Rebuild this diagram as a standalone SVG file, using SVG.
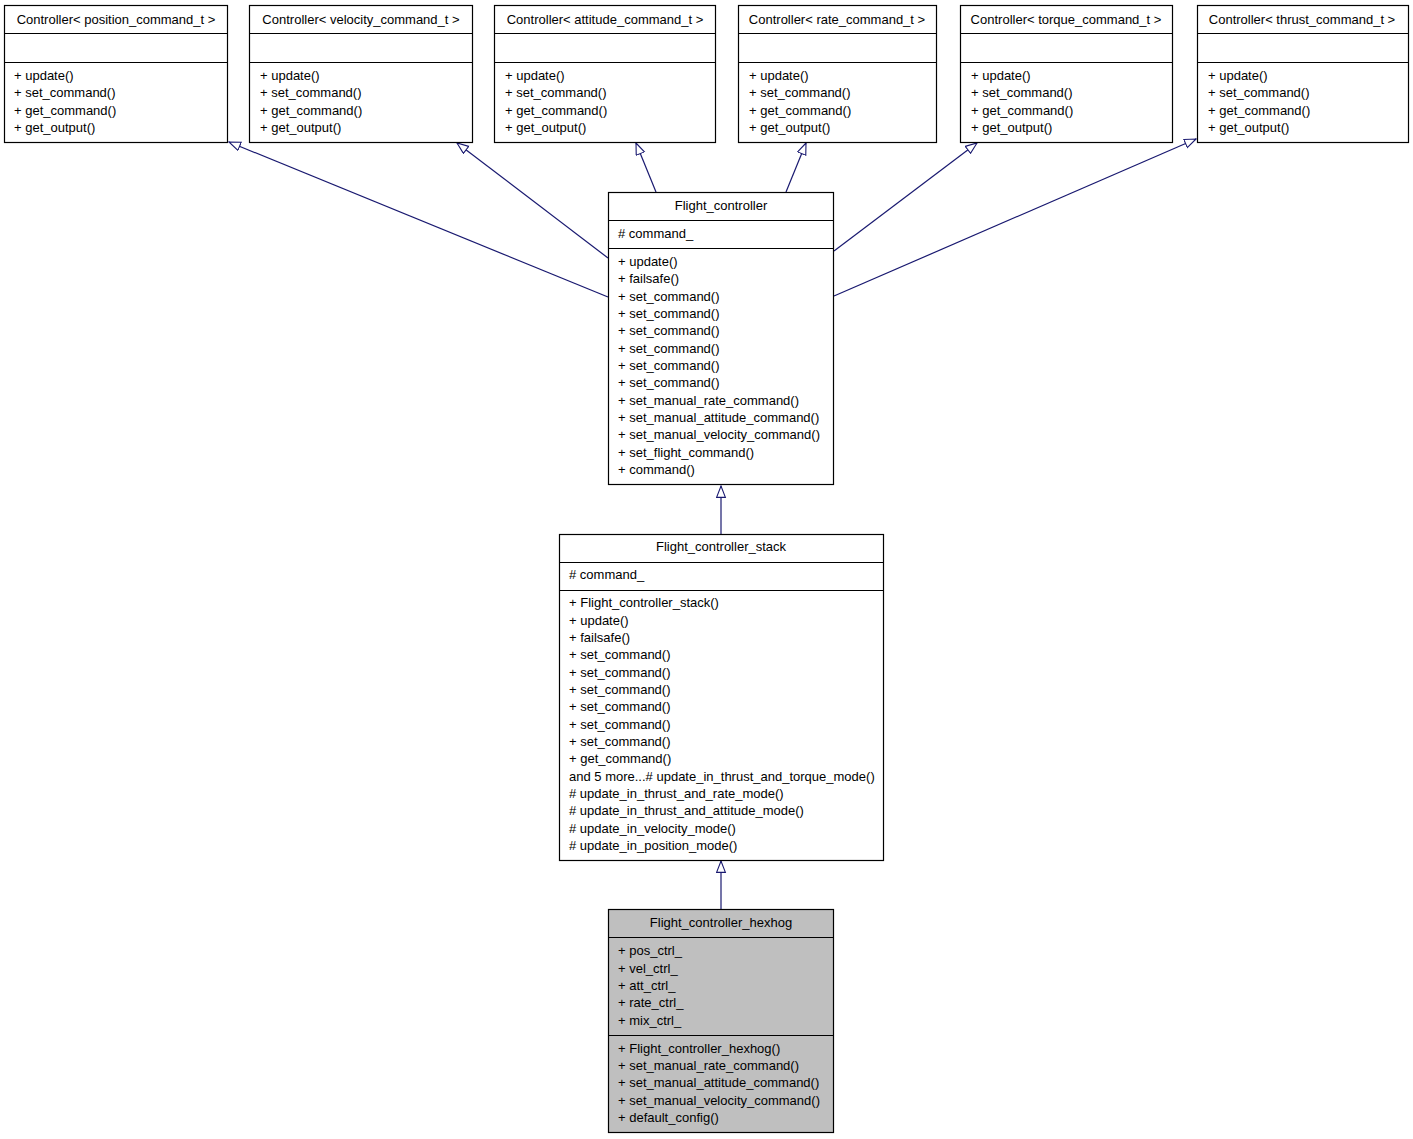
<svg xmlns="http://www.w3.org/2000/svg" width="1413" height="1139" viewBox="0 0 1413 1139">
<style>
text{font-family:"Liberation Sans",Arial,Helvetica,sans-serif;font-size:13px;fill:#000}
.h{text-anchor:middle}
.box{fill:#fff;stroke:#000;stroke-width:1.2}
.cur{fill:#bfbfbf;stroke:#000;stroke-width:1.2}
.sep{stroke:#000;stroke-width:1.2}
.e{stroke:#191970;stroke-width:1.2;fill:none;marker-end:url(#tri)}
</style>
<defs>
<marker id="tri" markerUnits="userSpaceOnUse" markerWidth="14" markerHeight="12" refX="12" refY="5" orient="auto">
<path d="M0.6,0.6 L12,5 L0.6,9.4 z" fill="#fff" stroke="#191970" stroke-width="1.1"/>
</marker>
</defs>
<g id="connectors">
<line class="e" x1="608" y1="297" x2="229" y2="142"/>
<line class="e" x1="608" y1="258" x2="457" y2="143"/>
<line class="e" x1="656" y1="192" x2="636" y2="143"/>
<line class="e" x1="786" y1="192" x2="806" y2="143"/>
<line class="e" x1="834" y1="251" x2="977" y2="143"/>
<line class="e" x1="834" y1="296" x2="1196" y2="139"/>
<line class="e" x1="721" y1="534" x2="721" y2="486"/>
<line class="e" x1="721" y1="909" x2="721" y2="861"/>
</g>
<g id="n_position">
<rect class="box" x="4.5" y="5.5" width="223" height="137"/>
<line class="sep" x1="4.5" y1="33.5" x2="227.5" y2="33.5"/>
<line class="sep" x1="4.5" y1="62.5" x2="227.5" y2="62.5"/>
<text class="h" x="116" y="24">Controller&lt; position_command_t &gt;</text>
<text x="14" y="80">+ update()</text><text x="14" y="97">+ set_command()</text><text x="14" y="115">+ get_command()</text><text x="14" y="132">+ get_output()</text>
</g>
<g id="n_velocity">
<rect class="box" x="249.5" y="5.5" width="223" height="137"/>
<line class="sep" x1="249.5" y1="33.5" x2="472.5" y2="33.5"/>
<line class="sep" x1="249.5" y1="62.5" x2="472.5" y2="62.5"/>
<text class="h" x="361" y="24">Controller&lt; velocity_command_t &gt;</text>
<text x="260" y="80">+ update()</text><text x="260" y="97">+ set_command()</text><text x="260" y="115">+ get_command()</text><text x="260" y="132">+ get_output()</text>
</g>
<g id="n_attitude">
<rect class="box" x="494.5" y="5.5" width="221" height="137"/>
<line class="sep" x1="494.5" y1="33.5" x2="715.5" y2="33.5"/>
<line class="sep" x1="494.5" y1="62.5" x2="715.5" y2="62.5"/>
<text class="h" x="605" y="24">Controller&lt; attitude_command_t &gt;</text>
<text x="505" y="80">+ update()</text><text x="505" y="97">+ set_command()</text><text x="505" y="115">+ get_command()</text><text x="505" y="132">+ get_output()</text>
</g>
<g id="n_rate">
<rect class="box" x="738.5" y="5.5" width="198" height="137"/>
<line class="sep" x1="738.5" y1="33.5" x2="936.5" y2="33.5"/>
<line class="sep" x1="738.5" y1="62.5" x2="936.5" y2="62.5"/>
<text class="h" x="837" y="24">Controller&lt; rate_command_t &gt;</text>
<text x="749" y="80">+ update()</text><text x="749" y="97">+ set_command()</text><text x="749" y="115">+ get_command()</text><text x="749" y="132">+ get_output()</text>
</g>
<g id="n_torque">
<rect class="box" x="960.5" y="5.5" width="212" height="137"/>
<line class="sep" x1="960.5" y1="33.5" x2="1172.5" y2="33.5"/>
<line class="sep" x1="960.5" y1="62.5" x2="1172.5" y2="62.5"/>
<text class="h" x="1066" y="24">Controller&lt; torque_command_t &gt;</text>
<text x="971" y="80">+ update()</text><text x="971" y="97">+ set_command()</text><text x="971" y="115">+ get_command()</text><text x="971" y="132">+ get_output()</text>
</g>
<g id="n_thrust">
<rect class="box" x="1197.5" y="5.5" width="211" height="137"/>
<line class="sep" x1="1197.5" y1="33.5" x2="1408.5" y2="33.5"/>
<line class="sep" x1="1197.5" y1="62.5" x2="1408.5" y2="62.5"/>
<text class="h" x="1302" y="24">Controller&lt; thrust_command_t &gt;</text>
<text x="1208" y="80">+ update()</text><text x="1208" y="97">+ set_command()</text><text x="1208" y="115">+ get_command()</text><text x="1208" y="132">+ get_output()</text>
</g>
<g id="n_flight_controller">
<rect class="box" x="608.5" y="192.5" width="225" height="292"/>
<line class="sep" x1="608.5" y1="220.5" x2="833.5" y2="220.5"/>
<line class="sep" x1="608.5" y1="248.5" x2="833.5" y2="248.5"/>
<text class="h" x="721" y="210">Flight_controller</text>
<text x="618" y="238"># command_</text>
<text x="618" y="266">+ update()</text>
<text x="618" y="283">+ failsafe()</text>
<text x="618" y="301">+ set_command()</text>
<text x="618" y="318">+ set_command()</text>
<text x="618" y="335">+ set_command()</text>
<text x="618" y="353">+ set_command()</text>
<text x="618" y="370">+ set_command()</text>
<text x="618" y="387">+ set_command()</text>
<text x="618" y="405">+ set_manual_rate_command()</text>
<text x="618" y="422">+ set_manual_attitude_command()</text>
<text x="618" y="439">+ set_manual_velocity_command()</text>
<text x="618" y="457">+ set_flight_command()</text>
<text x="618" y="474">+ command()</text>
</g>
<g id="n_stack">
<rect class="box" x="559.5" y="534.5" width="324" height="326"/>
<line class="sep" x1="559.5" y1="562.5" x2="883.5" y2="562.5"/>
<line class="sep" x1="559.5" y1="590.5" x2="883.5" y2="590.5"/>
<text class="h" x="721" y="551">Flight_controller_stack</text>
<text x="569" y="579"># command_</text>
<text x="569" y="607">+ Flight_controller_stack()</text>
<text x="569" y="625">+ update()</text>
<text x="569" y="642">+ failsafe()</text>
<text x="569" y="659">+ set_command()</text>
<text x="569" y="677">+ set_command()</text>
<text x="569" y="694">+ set_command()</text>
<text x="569" y="711">+ set_command()</text>
<text x="569" y="729">+ set_command()</text>
<text x="569" y="746">+ set_command()</text>
<text x="569" y="763">+ get_command()</text>
<text x="569" y="781">and 5 more...# update_in_thrust_and_torque_mode()</text>
<text x="569" y="798"># update_in_thrust_and_rate_mode()</text>
<text x="569" y="815"># update_in_thrust_and_attitude_mode()</text>
<text x="569" y="833"># update_in_velocity_mode()</text>
<text x="569" y="850"># update_in_position_mode()</text>
</g>
<g id="n_hexhog">
<rect class="cur" x="608.5" y="909.5" width="225" height="223"/>
<line class="sep" x1="608.5" y1="937.5" x2="833.5" y2="937.5"/>
<line class="sep" x1="608.5" y1="1035.5" x2="833.5" y2="1035.5"/>
<text class="h" x="721" y="927">Flight_controller_hexhog</text>
<text x="618" y="955">+ pos_ctrl_</text>
<text x="618" y="973">+ vel_ctrl_</text>
<text x="618" y="990">+ att_ctrl_</text>
<text x="618" y="1007">+ rate_ctrl_</text>
<text x="618" y="1025">+ mix_ctrl_</text>
<text x="618" y="1053">+ Flight_controller_hexhog()</text>
<text x="618" y="1070">+ set_manual_rate_command()</text>
<text x="618" y="1087">+ set_manual_attitude_command()</text>
<text x="618" y="1105">+ set_manual_velocity_command()</text>
<text x="618" y="1122">+ default_config()</text>
</g>
</svg>
